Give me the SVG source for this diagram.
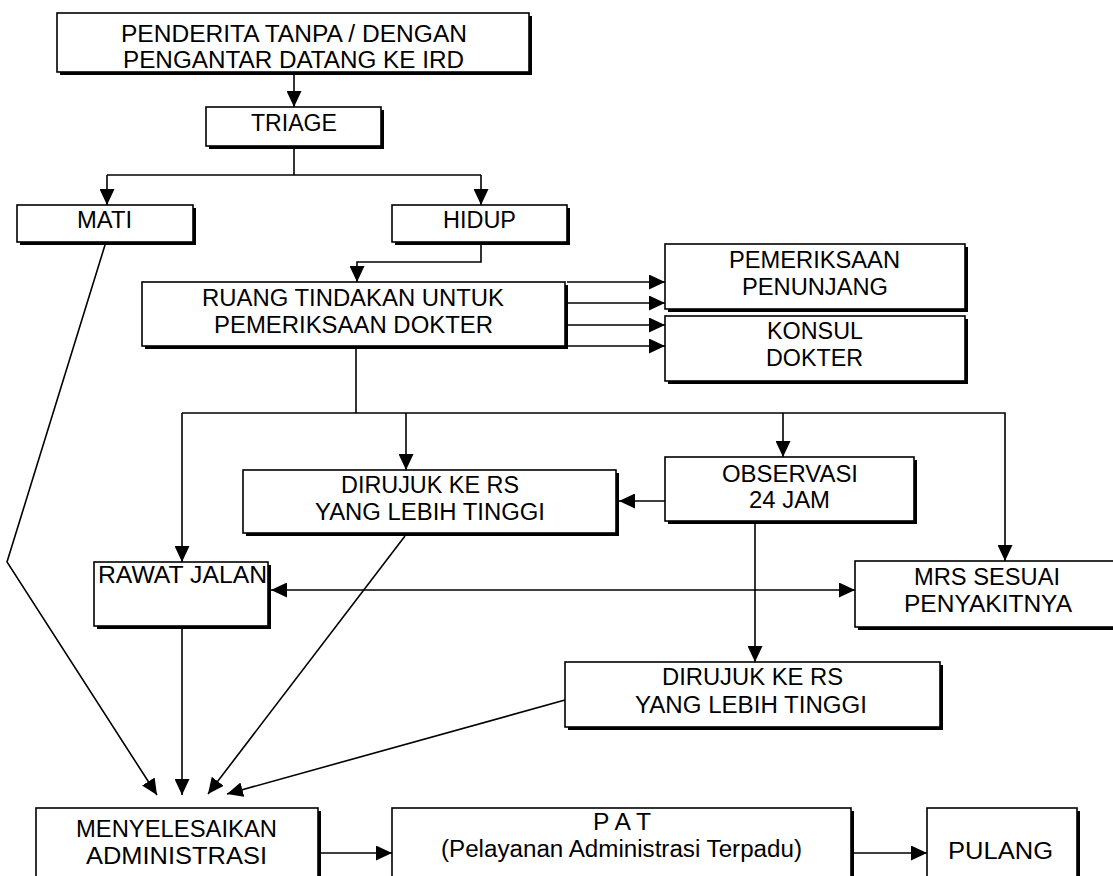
<svg xmlns="http://www.w3.org/2000/svg" width="1113" height="876" viewBox="0 0 1113 876">
  <style>
    .shadow { fill: #000; }
    .box { fill: #fff; stroke: #000; stroke-width: 1.6; }
    .t { font-family: "Liberation Sans", Arial, sans-serif; font-size: 23px; fill: #000; }
    .c { fill: none; stroke: #000; stroke-width: 1.6; }
    .a { fill: none; stroke: #000; stroke-width: 1.6; marker-end: url(#ah); }
  </style>
  <defs>
    <marker id="ah" markerUnits="userSpaceOnUse" markerWidth="17" markerHeight="15" refX="16" refY="7.5" orient="auto">
      <path d="M0,0 L16,7.5 L0,15 Z" fill="#000"/>
    </marker>
    <marker id="ahs" markerUnits="userSpaceOnUse" markerWidth="17" markerHeight="15" refX="16" refY="7.5" orient="auto-start-reverse">
      <path d="M0,0 L16,7.5 L0,15 Z" fill="#000"/>
    </marker>
  </defs>
  <rect width="1113" height="876" fill="#fff"/>

  <g id="connectors">
    <line class="a" x1="294" y1="75" x2="294" y2="107"/>
    <line class="c" x1="294" y1="148" x2="294" y2="175"/>
    <line class="c" x1="107" y1="175" x2="481" y2="175"/>
    <line class="a" x1="107" y1="175" x2="107" y2="205"/>
    <line class="a" x1="481" y1="175" x2="481" y2="205"/>
    <polyline class="a" points="481,245 481,262 357,262 357,282"/>
    <line class="a" x1="567" y1="282" x2="665" y2="282"/>
    <line class="a" x1="567" y1="303" x2="665" y2="303"/>
    <line class="a" x1="567" y1="325" x2="665" y2="325"/>
    <line class="a" x1="567" y1="346" x2="665" y2="346"/>
    <line class="c" x1="356" y1="349" x2="356" y2="413"/>
    <polyline class="a" points="182,413 1005,413 1005,561"/>
    <line class="a" x1="182" y1="413" x2="182" y2="562"/>
    <line class="a" x1="406" y1="413" x2="406" y2="470"/>
    <line class="a" x1="783" y1="413" x2="783" y2="457"/>
    <line class="a" x1="665" y1="501" x2="619" y2="501"/>
    <line class="a" x1="755" y1="524" x2="755" y2="662"/>
    <line class="a" x1="271" y1="590" x2="855" y2="590" style="marker-start:url(#ahs)"/>
    <polyline class="a" points="105,245 7,562 157,795"/>
    <line class="a" x1="182" y1="629" x2="182" y2="795"/>
    <line class="a" x1="405" y1="536" x2="208" y2="794"/>
    <line class="a" x1="565" y1="700" x2="227" y2="794"/>
    <line class="a" x1="320" y1="853" x2="392" y2="853"/>
    <line class="a" x1="854" y1="853" x2="927" y2="853"/>
  </g>

  <g id="n-penderita">
    <rect class="shadow" x="60" y="16" width="472" height="59"/>
    <rect class="box" x="57" y="13" width="472" height="59"/>
    <text class="t" x="121" y="42" textLength="346" lengthAdjust="spacingAndGlyphs">PENDERITA TANPA / DENGAN</text>
    <text class="t" x="123" y="68" textLength="341" lengthAdjust="spacingAndGlyphs">PENGANTAR DATANG KE IRD</text>
  </g>
  <g id="n-triage">
    <rect class="shadow" x="209" y="110" width="175" height="39"/>
    <rect class="box" x="206" y="107" width="175" height="39"/>
    <text class="t" x="251" y="131" textLength="86" lengthAdjust="spacingAndGlyphs">TRIAGE</text>
  </g>
  <g id="n-mati">
    <rect class="shadow" x="20" y="208" width="176" height="37"/>
    <rect class="box" x="17" y="205" width="176" height="37"/>
    <text class="t" x="77" y="228" textLength="55" lengthAdjust="spacingAndGlyphs">MATI</text>
  </g>
  <g id="n-hidup">
    <rect class="shadow" x="395" y="208" width="175" height="37"/>
    <rect class="box" x="392" y="205" width="175" height="37"/>
    <text class="t" x="443" y="228" textLength="73" lengthAdjust="spacingAndGlyphs">HIDUP</text>
  </g>
  <g id="n-ruang">
    <rect class="shadow" x="145" y="285" width="423" height="64"/>
    <rect class="box" x="142" y="282" width="423" height="64"/>
    <text class="t" x="202" y="306" textLength="302" lengthAdjust="spacingAndGlyphs">RUANG TINDAKAN UNTUK</text>
    <text class="t" x="214" y="333" textLength="279" lengthAdjust="spacingAndGlyphs">PEMERIKSAAN DOKTER</text>
  </g>
  <g id="n-penunjang">
    <rect class="shadow" x="668" y="247" width="300" height="65"/>
    <rect class="box" x="665" y="244" width="300" height="65"/>
    <text class="t" x="729" y="268" textLength="171" lengthAdjust="spacingAndGlyphs">PEMERIKSAAN</text>
    <text class="t" x="742" y="295" textLength="146" lengthAdjust="spacingAndGlyphs">PENUNJANG</text>
  </g>
  <g id="n-konsul">
    <rect class="shadow" x="668" y="319" width="300" height="65"/>
    <rect class="box" x="665" y="316" width="300" height="65"/>
    <text class="t" x="767" y="339" textLength="96" lengthAdjust="spacingAndGlyphs">KONSUL</text>
    <text class="t" x="766" y="366" textLength="97" lengthAdjust="spacingAndGlyphs">DOKTER</text>
  </g>
  <g id="n-dirujuk1">
    <rect class="shadow" x="246" y="473" width="373" height="63"/>
    <rect class="box" x="243" y="470" width="373" height="63"/>
    <text class="t" x="341" y="493" textLength="178" lengthAdjust="spacingAndGlyphs">DIRUJUK KE RS</text>
    <text class="t" x="315" y="520" textLength="230" lengthAdjust="spacingAndGlyphs">YANG LEBIH TINGGI</text>
  </g>
  <g id="n-observasi">
    <rect class="shadow" x="668" y="460" width="249" height="64"/>
    <rect class="box" x="665" y="457" width="249" height="64"/>
    <text class="t" x="722" y="482" textLength="136" lengthAdjust="spacingAndGlyphs">OBSERVASI</text>
    <text class="t" x="749" y="508" textLength="81" lengthAdjust="spacingAndGlyphs">24 JAM</text>
  </g>
  <g id="n-rawat">
    <rect class="shadow" x="97" y="565" width="174" height="64"/>
    <rect class="box" x="94" y="562" width="174" height="64"/>
    <text class="t" x="98" y="583" textLength="169" lengthAdjust="spacingAndGlyphs">RAWAT JALAN</text>
  </g>
  <g id="n-mrs">
    <rect class="shadow" x="858" y="564" width="265" height="66"/>
    <rect class="box" x="855" y="561" width="265" height="66"/>
    <text class="t" x="914" y="585" textLength="146" lengthAdjust="spacingAndGlyphs">MRS SESUAI</text>
    <text class="t" x="904" y="612" textLength="168" lengthAdjust="spacingAndGlyphs">PENYAKITNYA</text>
  </g>
  <g id="n-dirujuk2">
    <rect class="shadow" x="568" y="665" width="375" height="65"/>
    <rect class="box" x="565" y="662" width="375" height="65"/>
    <text class="t" x="662" y="685" textLength="181" lengthAdjust="spacingAndGlyphs">DIRUJUK KE RS</text>
    <text class="t" x="635" y="713" textLength="232" lengthAdjust="spacingAndGlyphs">YANG LEBIH TINGGI</text>
  </g>
  <g id="n-admin">
    <rect class="shadow" x="39" y="811" width="282" height="90"/>
    <rect class="box" x="36" y="808" width="282" height="90"/>
    <text class="t" x="76" y="837" textLength="201" lengthAdjust="spacingAndGlyphs">MENYELESAIKAN</text>
    <text class="t" x="86" y="864" textLength="181" lengthAdjust="spacingAndGlyphs">ADMINISTRASI</text>
  </g>
  <g id="n-pat">
    <rect class="shadow" x="395" y="811" width="459" height="90"/>
    <rect class="box" x="392" y="808" width="459" height="90"/>
    <text class="t" x="593" y="830" textLength="58" lengthAdjust="spacingAndGlyphs">P A T</text>
    <text class="t" x="441" y="857" textLength="361" lengthAdjust="spacingAndGlyphs">(Pelayanan Administrasi Terpadu)</text>
  </g>
  <g id="n-pulang">
    <rect class="shadow" x="930" y="811" width="150" height="90"/>
    <rect class="box" x="927" y="808" width="150" height="90"/>
    <text class="t" x="948" y="859" textLength="105" lengthAdjust="spacingAndGlyphs">PULANG</text>
  </g>
</svg>
